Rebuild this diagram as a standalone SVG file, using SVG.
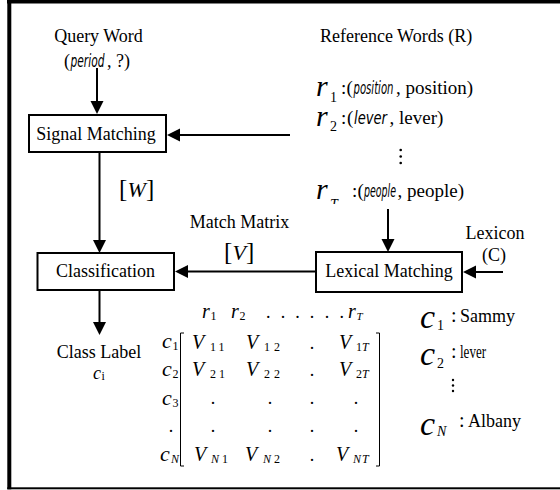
<svg xmlns="http://www.w3.org/2000/svg" width="560" height="490" viewBox="0 0 560 490">
<style>
.t{font-family:"Liberation Serif","Times New Roman",serif;font-size:18px;fill:#000}
.i{font-style:italic}
.c{font-family:"DejaVu Sans","Liberation Sans",sans-serif;font-style:italic;font-size:17px;fill:#000}
.m{text-anchor:middle}
.box{fill:#fff;stroke:#000;stroke-width:2}
.ln{stroke:#000;stroke-width:2;fill:none}
.br{stroke:#000;stroke-width:1;fill:none}
.sub{font-size:12px}
</style>
<defs>
<marker id="ah" markerUnits="userSpaceOnUse" markerWidth="14" markerHeight="14" refX="7" refY="6.5" orient="auto">
<path d="M0,0 L13,6.5 L0,13 z" fill="#000"/>
</marker>
<clipPath id="clipT"><rect x="325" y="180" width="20" height="24"/></clipPath>
</defs>
<rect width="560" height="490" fill="#fff"/>
<g id="frame">
<rect x="7" y="0" width="553" height="3.5" fill="#000"/>
<rect x="7.3" y="0" width="4" height="489.3" fill="#000"/>
<rect x="7.3" y="487.3" width="552.7" height="2" fill="#000"/>
</g>
<g id="connectors">
<line class="ln" x1="97" y1="68" x2="97" y2="108" marker-end="url(#ah)"/>
<line class="ln" x1="290" y1="135" x2="173" y2="135" marker-end="url(#ah)"/>
<line class="ln" x1="99.5" y1="152" x2="99.5" y2="247" marker-end="url(#ah)"/>
<line class="ln" x1="316" y1="271.5" x2="181" y2="271.5" marker-end="url(#ah)"/>
<line class="ln" x1="388" y1="209" x2="388" y2="246" marker-end="url(#ah)"/>
<line class="ln" x1="503" y1="272" x2="469" y2="272" marker-end="url(#ah)"/>
<line class="ln" x1="99.5" y1="290" x2="99.5" y2="329" marker-end="url(#ah)"/>
<g id="label-W">
<text class="t" x="119" y="197" style="font-size:25px">[</text>
<text class="t i" x="127.5" y="197" style="font-size:22px">W</text>
<text class="t" x="146" y="197" style="font-size:25px">]</text>
</g>
<g id="label-V">
<text class="t m" x="239.5" y="228">Match Matrix</text>
<text class="t" x="224" y="260" style="font-size:25px">[</text>
<text class="t i" x="232.5" y="260" style="font-size:22px">V</text>
<text class="t" x="246" y="260" style="font-size:25px">]</text>
</g>
</g>
<g id="query-word">
<text class="t m" x="98.5" y="42">Query Word</text>
<text class="t" x="64" y="67">(</text>
<text class="c" transform="translate(70.5,67) scale(0.627,1)">period</text>
<text class="t" x="107" y="67">, ?)</text>
</g>
<g id="signal-matching">
<rect class="box" x="29" y="115" width="137" height="37"/>
<text class="t m" x="96" y="140">Signal Matching</text>
</g>
<g id="classification">
<rect class="box" x="37.5" y="253" width="136.5" height="37"/>
<text class="t m" x="105.5" y="276.5">Classification</text>
</g>
<g id="lexical-matching">
<rect class="box" x="316" y="252" width="146" height="40"/>
<text class="t m" x="389" y="277">Lexical Matching</text>
</g>
<g id="reference-words">
<text class="t" x="320" y="42">Reference Words (R)</text>
<text class="t i" x="316" y="96" style="font-size:30px">r</text>
<text class="t" x="330" y="102" style="font-size:14px">1</text>
<text class="t" x="341" y="94" style="font-size:19px">:</text>
<text class="t" x="346.5" y="94" style="font-size:19px">(</text>
<text class="c" transform="translate(353.5,94) scale(0.594,1)">position</text>
<text class="t" x="396" y="94" style="font-size:19px">, position)</text>
<text class="t i" x="316" y="126" style="font-size:30px">r</text>
<text class="t" x="330" y="131" style="font-size:14px">2</text>
<text class="t" x="341" y="124" style="font-size:19px">:</text>
<text class="t" x="347" y="124" style="font-size:19px">(</text>
<text class="c" transform="translate(354,124) scale(0.773,1)">lever</text>
<text class="t" x="389.5" y="124" style="font-size:19px">, lever)</text>
<circle cx="400.7" cy="150" r="1.3"/>
<circle cx="400.7" cy="156.5" r="1.3"/>
<circle cx="400.7" cy="163" r="1.3"/>
<text class="t i" x="316" y="199" style="font-size:30px">r</text>
<text class="t i" x="330" y="209" style="font-size:14px" clip-path="url(#clipT)">T</text>
<text class="t" x="352" y="197" style="font-size:19px">:</text>
<text class="t" x="357.5" y="197" style="font-size:19px">(</text>
<text class="c" transform="translate(364,197) scale(0.556,1)">people</text>
<text class="t" x="397.5" y="197" style="font-size:19px">, people)</text>
</g>
<g id="lexicon">
<text class="t m" x="495" y="239">Lexicon</text>
<text class="t m" x="494" y="261">(C)</text>
<text class="t i" x="420" y="328" style="font-size:34px">c</text>
<text class="t" x="437" y="330" style="font-size:14px">1</text>
<text class="t" x="451" y="322" style="font-size:20px">:</text>
<text class="t" x="460" y="322">Sammy</text>
<text class="t i" x="420" y="365" style="font-size:34px">c</text>
<text class="t" x="437" y="368" style="font-size:14px">2</text>
<text class="t" x="451" y="358" style="font-size:20px">:</text>
<text class="t" x="460" y="358" textLength="26" lengthAdjust="spacingAndGlyphs">lever</text>
<circle cx="453" cy="380" r="1.2"/>
<circle cx="453" cy="385.5" r="1.2"/>
<circle cx="453" cy="391" r="1.2"/>
<text class="t i" x="420" y="435" style="font-size:34px">c</text>
<text class="t i" x="437" y="436" style="font-size:14px">N</text>
<text class="t" x="459" y="427" style="font-size:20px">:</text>
<text class="t" x="468" y="427">Albany</text>
</g>
<g id="class-label">
<text class="t m" x="99" y="358">Class Label</text>
<text class="t i" x="93" y="378.5" style="font-size:18px">c</text>
<text class="t" x="101.5" y="380" style="font-size:12px">i</text>
</g>
<g id="match-matrix">
<text class="t i" x="202" y="318" style="font-size:20px">r</text>
<text class="t sub" x="210.5" y="320">1</text>
<text class="t i" x="231" y="318" style="font-size:20px">r</text>
<text class="t sub" x="239.5" y="320">2</text>
<text class="t m" x="268.3" y="318">.</text>
<text class="t m" x="283" y="318">.</text>
<text class="t m" x="297.5" y="318">.</text>
<text class="t m" x="312" y="318">.</text>
<text class="t m" x="327" y="318">.</text>
<text class="t m" x="341.7" y="318">.</text>
<text class="t i" x="348" y="318" style="font-size:20px">r</text>
<text class="t i sub" x="356.5" y="320" style="font-size:11px">T</text>
<path class="br" d="M184,333 H180.5 V466 H184"/>
<path class="br" d="M376,333 H379.5 V466 H376"/>
<text class="t i" x="162" y="348" style="font-size:22px">c</text>
<text class="t sub" x="172.5" y="350">1</text>
<text class="t i" x="162" y="376" style="font-size:22px">c</text>
<text class="t sub" x="172.5" y="378">2</text>
<text class="t i" x="162" y="405" style="font-size:22px">c</text>
<text class="t sub" x="172.5" y="407">3</text>
<text class="t m" x="171" y="432">.</text>
<text class="t i" x="160" y="461" style="font-size:22px">c</text>
<text class="t i sub" x="171" y="463">N</text>
<text class="t i" x="192" y="349" style="font-size:20px">V</text>
<text class="t sub" x="210" y="351" letter-spacing="3">11</text>
<text class="t i" x="246" y="349" style="font-size:20px">V</text>
<text class="t sub" x="264" y="351" letter-spacing="4">12</text>
<text class="t m" x="312" y="349">.</text>
<text class="t i" x="339" y="349" style="font-size:20px">V</text>
<text class="t sub" x="356" y="351">1<tspan class="i">T</tspan></text>
<text class="t i" x="192" y="376" style="font-size:20px">V</text>
<text class="t sub" x="210" y="378" letter-spacing="3">21</text>
<text class="t i" x="246" y="376" style="font-size:20px">V</text>
<text class="t sub" x="264" y="378" letter-spacing="4">22</text>
<text class="t m" x="312" y="376">.</text>
<text class="t i" x="339" y="376" style="font-size:20px">V</text>
<text class="t sub" x="356" y="378">2<tspan class="i">T</tspan></text>
<text class="t m" x="213" y="404">.</text>
<text class="t m" x="270" y="404">.</text>
<text class="t m" x="312" y="404">.</text>
<text class="t m" x="356" y="404">.</text>
<text class="t m" x="213" y="432">.</text>
<text class="t m" x="270" y="432">.</text>
<text class="t m" x="312" y="432">.</text>
<text class="t m" x="356" y="432">.</text>
<text class="t i" x="194" y="461" style="font-size:20px">V</text>
<text class="t sub" x="211" y="463" letter-spacing="3"><tspan class="i">N</tspan>1</text>
<text class="t i" x="245" y="461" style="font-size:20px">V</text>
<text class="t sub" x="263" y="463" letter-spacing="3"><tspan class="i">N</tspan>2</text>
<text class="t m" x="312" y="461">.</text>
<text class="t i" x="336" y="461" style="font-size:20px">V</text>
<text class="t i sub" x="353" y="463" letter-spacing="1">NT</text>
</g>
</svg>
